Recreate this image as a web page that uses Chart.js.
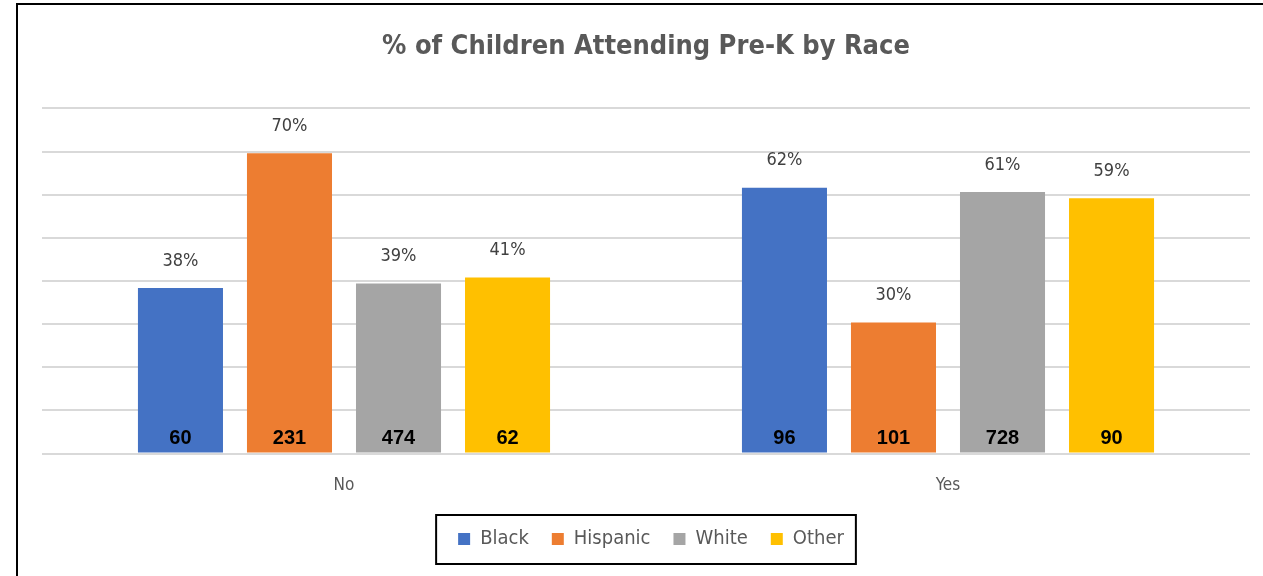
<!DOCTYPE html>
<html>
<head>
<meta charset="utf-8">
<script src="https://cdn.jsdelivr.net/npm/chart.js@4.4.1/dist/chart.umd.min.js"></script>
<style>
  html, body { margin: 0; padding: 0; background: #fff; }
  #wrap { position: relative; width: 1263px; height: 576px; }
  #myChart { position: absolute; left: 0; top: 0; }
  #frame { position: absolute; left: 16px; top: 3px; right: 0; bottom: 0;
           border-top: 2px solid #000; border-left: 2px solid #000; pointer-events: none; }
</style>
</head>
<body>
<div id="wrap">
  <canvas id="myChart" width="1263" height="576"></canvas>
  <div id="frame"></div>
</div>
<script>
// DATA
const categories = ['No', 'Yes'];
const races = ['Black', 'Hispanic', 'White', 'Other'];
const raceColors = ['#4472C4', '#ED7D31', '#A5A5A5', '#FFC000'];

// percent of each race (bar height)
const blackPct = [38.4, 61.6];
const hispanicPct = [69.6, 30.4];
const whitePct = [39.4, 60.6];
const otherPct = [40.8, 59.2];

// counts written inside the bars
const blackCount = [60, 96];
const hispanicCount = [231, 101];
const whiteCount = [474, 728];
const otherCount = [62, 90];

const yTicks = [0, 10, 20, 30, 40, 50, 60, 70, 80];

const pctSeries = [blackPct, hispanicPct, whitePct, otherPct];
const countSeries = [blackCount, hispanicCount, whiteCount, otherCount];

const LABEL_FONT = '"Liberation Sans Narrow", "DejaVu Sans Condensed", "Liberation Sans", sans-serif';

//BAR LABELS (percent on top, count at bottom)
const barLabels = {
    id: 'barLabels',
    afterDatasetsDraw(chart) {
        const c = chart.ctx;
        const yScale = chart.scales.y;
        c.save();
        c.textAlign = 'center';
        c.textBaseline = 'middle';
        chart.data.datasets.forEach((ds, i) => {
            const meta = chart.getDatasetMeta(i);
            meta.data.forEach((bar, j) => {
                c.fillStyle = '#404040';
                c.font = '18px ' + LABEL_FONT;
                c.fillText(Math.round(ds.data[j]) + '%', bar.x, bar.y - 27);

                c.fillStyle = '#000';
                c.font = 'bold 20px "Liberation Sans", Arial, sans-serif';
                c.fillText(String(countSeries[i][j]), bar.x, yScale.getPixelForValue(0) - 15);
            });
        });
        c.restore();
    }
};

// BOX ROUND THE LEGEND (and nudge it a little right, like the original)
const legendBox = {
    id: 'legendBox',
    afterLayout(chart) {
        chart.legend.left += 5;
        chart.legend.right += 5;
    },
    afterDraw(chart) {
        const boxes = chart.legend.legendHitBoxes;
        if (!boxes || !boxes.length) return;
        let l = Infinity, r = -Infinity, t = Infinity, b = -Infinity;
        for (const h of boxes) {
            l = Math.min(l, h.left); r = Math.max(r, h.left + h.width);
            t = Math.min(t, h.top); b = Math.max(b, h.top + h.height);
        }
        const c = chart.ctx;
        c.save();
        c.strokeStyle = '#000';
        c.lineWidth = 2;
        c.strokeRect(l - 22, t - 14, (r - l) + 34, (b - t) + 29);
        c.restore();
    }
};

const ctx = document.getElementById('myChart').getContext('2d');
new Chart(ctx, {
    type: 'bar',
    data: {
        labels: categories,
        datasets: races.map((name, i) => ({
            label: name,
            data: pctSeries[i],
            backgroundColor: raceColors[i],
            borderWidth: 0,
            categoryPercentage: 0.722,
            barPercentage: 0.78
        }))
    },
    options: {
        responsive: false,
        animation: false,
        layout: { padding: { left: 42, right: 13, top: 0, bottom: 17 } },
        plugins: {
            title: {
                display: true,
                text: '% of Children Attending Pre-K by Race',
                color: '#595959',
                font: { family: LABEL_FONT, size: 27, weight: 'bold' },
                padding: { top: 31, bottom: 45 }
            },
            legend: {
                position: 'bottom',
                labels: {
                    boxWidth: 12,
                    boxHeight: 12,
                    color: '#595959',
                    font: { family: LABEL_FONT, size: 20 },
                    padding: 23
                }
            },
            tooltip: { enabled: false }
        },
        scales: {
            x: {
                grid: { display: false, drawTicks: false },
                border: { display: false },
                ticks: { color: '#595959', font: { family: LABEL_FONT, size: 17 }, padding: 22 },
                afterFit: (axis) => { axis.height -= 12; }
            },
            y: {
                min: 0,
                max: 80,
                afterBuildTicks: (axis) => { axis.ticks = yTicks.map(v => ({ value: v })); },
                ticks: { display: false },
                grid: { color: '#d9d9d9', lineWidth: 2, drawTicks: false },
                border: { display: false }
            }
        }
    },
    plugins: [barLabels, legendBox]
});
</script>
</body>
</html>
